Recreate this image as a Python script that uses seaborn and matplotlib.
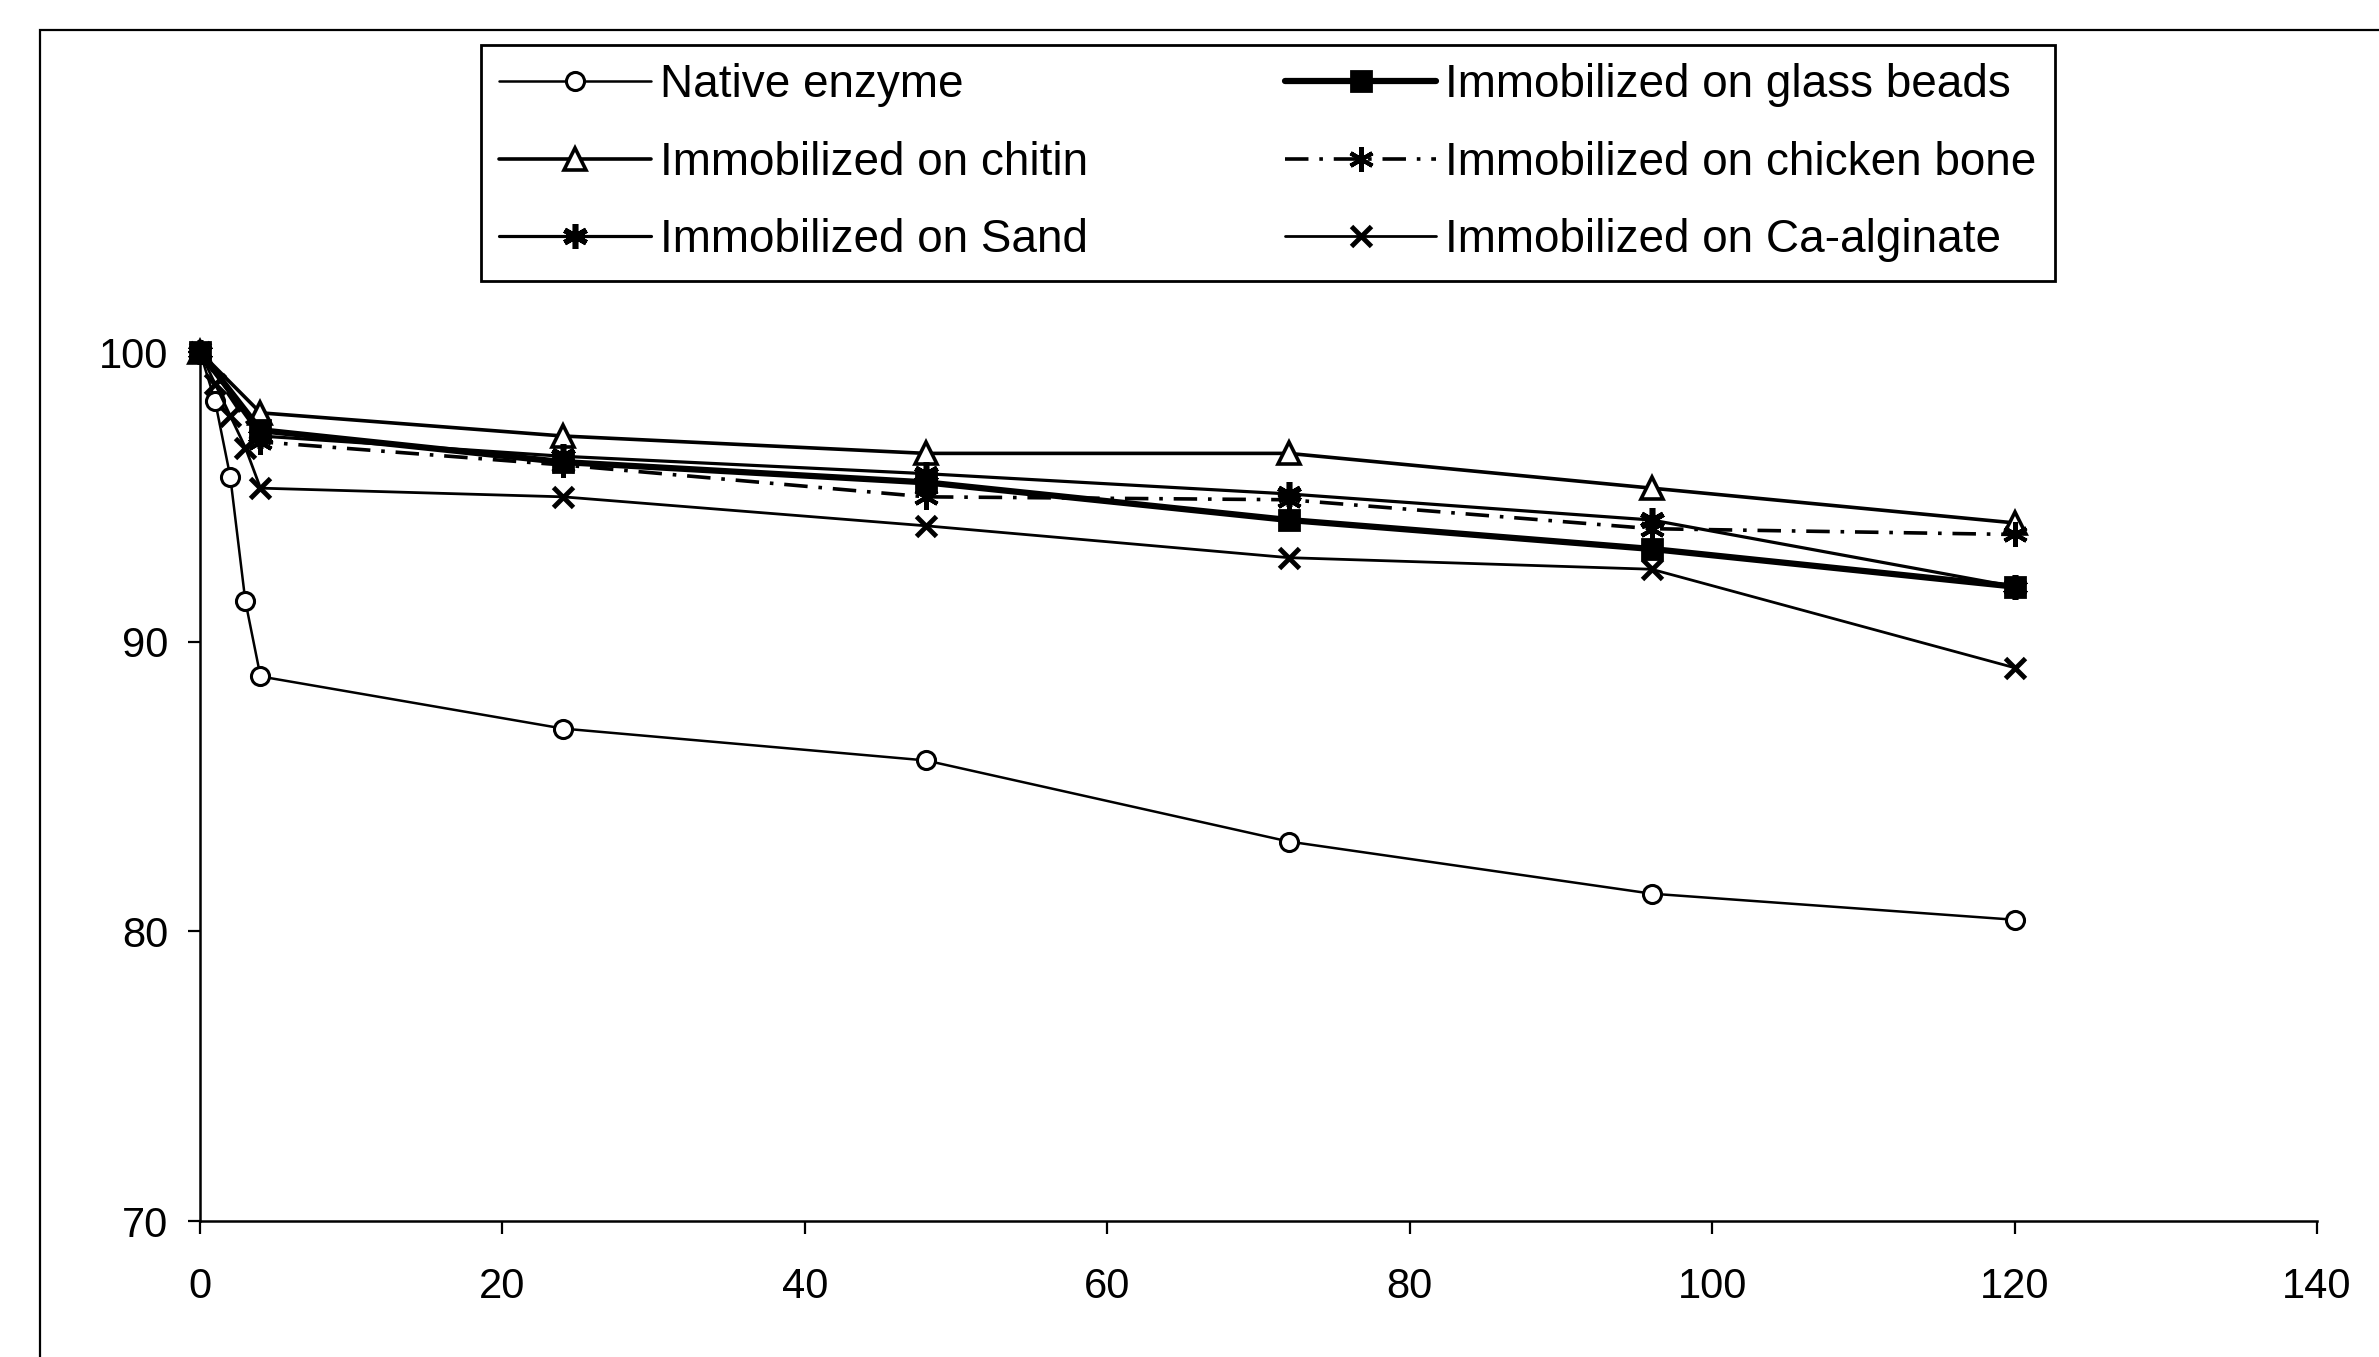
import numpy as np
import pandas as pd
import matplotlib
matplotlib.use("Agg")
import matplotlib.pyplot as plt
import seaborn as sns
from matplotlib.patches import Rectangle

# ---- data ----
hours = [0, 1, 2, 3, 4, 24, 48, 72, 96, 120]
native = [100, 98.3, 95.7, 91.4, 88.8, 87.0, 85.9, 83.1, 81.3, 80.4]
chitin = [100, np.nan, np.nan, np.nan, 97.9, 97.1, 96.5, 96.5, 95.3, 94.1]
sand = [100, np.nan, np.nan, np.nan, 97.1, 96.4, 95.8, 95.1, 94.2, 91.9]
glass_beads = [100, np.nan, np.nan, np.nan, 97.3, 96.2, 95.5, 94.2, 93.2, 91.9]
chicken_bone = [100, np.nan, np.nan, np.nan, 96.9, 96.1, 95.0, 94.9, 93.9, 93.7]
ca_alginate = [100, 98.9, 97.8, 96.7, 95.3, 95.0, 94.0, 92.9, 92.5, 89.1]

labels = ["Native enzyme", "Immobilized on chitin", "Immobilized on Sand",
          "Immobilized on glass beads", "Immobilized on chicken bone",
          "Immobilized on Ca-alginate"]
x_ticks = [0, 20, 40, 60, 80, 100, 120, 140]
y_ticks = [70, 80, 90, 100]

sns.set_theme(style="ticks")
plt.rcParams["font.family"] = ["Liberation Sans", "DejaVu Sans"]
plt.rcParams["text.color"] = "black"
plt.rcParams["axes.labelcolor"] = "black"

W, H = 2379, 1357
fig = plt.figure(figsize=(W / 100, H / 100), dpi=100, facecolor="white")
ax = fig.add_axes([200 / W, 136 / H, (2317 - 200) / W, (1221 - 352) / H])
ax.set_facecolor("white")

styles = {
    "Native enzyme": dict(marker="o", ls="-", lw=1.8, ms=13, mfc="white", mew=2.2),
    "Immobilized on chitin": dict(marker="^", ls="-", lw=2.6, ms=16, mfc="white", mew=2.6),
    "Immobilized on Sand": dict(marker=(6, 2, 0), ls="-", lw=2.3, ms=18, mfc="black", mew=4),
    "Immobilized on glass beads": dict(marker="s", ls="-", lw=4.5, ms=15, mfc="black", mew=2),
    "Immobilized on chicken bone": dict(marker=(6, 2, 0), ls=(0, (6.5, 3, 1, 3)), lw=2.6, ms=18, mfc="black", mew=3),
    "Immobilized on Ca-alginate": dict(marker="x", ls="-", lw=2.0, ms=15, mfc="black", mew=3.5),
}
values = [native, chitin, sand, glass_beads, chicken_bone, ca_alginate]

for name, vals in zip(labels, values):
    df = pd.DataFrame({"Time": hours, "Activity": vals}).dropna()
    st = styles[name]
    sns.lineplot(data=df, x="Time", y="Activity", ax=ax, color="black",
                 estimator=None, errorbar=None, sort=False,
                 marker=st["marker"], linestyle=st["ls"], linewidth=st["lw"],
                 markersize=st["ms"], markerfacecolor=st["mfc"],
                 markeredgecolor="black", markeredgewidth=st["mew"],
                 clip_on=False, label=name)

ax.set_xlim(0, 140)
ax.set_ylim(70, 100)
ax.set_xticks(x_ticks)
ax.set_yticks(y_ticks)
ax.set_xticklabels([str(t) for t in x_ticks])
ax.set_yticklabels([str(t) for t in y_ticks])
ax.set_xlabel("")
ax.set_ylabel("")
for s in ["top", "right"]:
    ax.spines[s].set_visible(False)
for s in ["left", "bottom"]:
    ax.spines[s].set_color("black")
    ax.spines[s].set_linewidth(1.8)
ax.tick_params(axis="both", direction="out", length=9, width=1.6, colors="black",
               labelsize=30, left=True, bottom=True)
ax.tick_params(axis="x", pad=24)
ax.tick_params(axis="y", pad=14)

handles, labs = ax.get_legend_handles_labels()
order = [labs.index(l) for l in labels]
leg = ax.legend([handles[i] for i in order], [labs[i] for i in order], ncol=2,
                loc="upper left", bbox_to_anchor=(481 / W, 1 - 45 / H),
                bbox_transform=fig.transFigure, frameon=True, fancybox=False,
                edgecolor="black", framealpha=1, fontsize=33, handlelength=3.3,
                handletextpad=0.2, columnspacing=4.3, labelspacing=0.73,
                borderpad=0.4, borderaxespad=0)
leg.get_frame().set_linewidth(2)
for t in leg.get_texts():
    t.set_color("black")

fig.add_artist(Rectangle((40 / W, -0.5), 2, 0.5 + 1 - 30 / H, transform=fig.transFigure,
                         fill=False, edgecolor="black", linewidth=1.6, clip_on=False))

fig.savefig("out.png", dpi=100, facecolor="white")
